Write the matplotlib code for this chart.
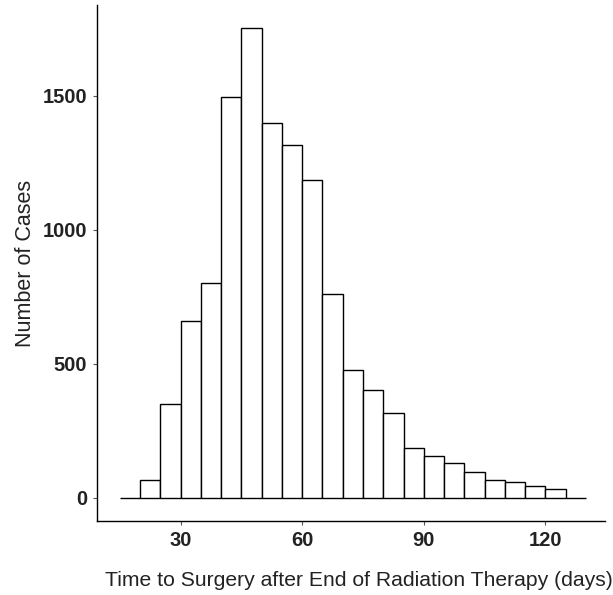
import numpy as np
import matplotlib.pyplot as plt

plt.rcParams['font.family'] = ['Liberation Sans', 'DejaVu Sans']

# histogram bins (days) and counts per 5-day bin
bin_edges = [15, 20, 25, 30, 35, 40, 45, 50, 55, 60, 65, 70, 75,
             80, 85, 90, 95, 100, 105, 110, 115, 120, 125, 130]
counts = [0, 66, 348, 659, 800, 1496, 1752, 1399, 1314, 1184, 759, 475,
          402, 314, 186, 154, 128, 96, 66, 57, 44, 31, 0]
x_ticks = [30, 60, 90, 120]
y_ticks = [0, 500, 1000, 1500]

fig = plt.figure(figsize=(6.13, 5.95), dpi=100)
ax = fig.add_axes([0.158, 0.1244, 0.829, 0.867])

left = np.array(bin_edges[:-1])
widths = np.diff(bin_edges)
ax.bar(left, counts, width=widths, align='edge', facecolor='white',
       edgecolor='black', linewidth=1.0)

ax.set_xlim(9.35, 134.7)
ax.set_ylim(-87.5, 1837.5)
ax.set_xticks(x_ticks)
ax.set_yticks(y_ticks)

ax.spines['top'].set_visible(False)
ax.spines['right'].set_visible(False)
for s in ['left', 'bottom']:
    ax.spines[s].set_linewidth(1.0)
    ax.spines[s].set_color('black')

ax.tick_params(axis='both', length=3, width=0.8, color='#555555',
               labelsize=14.5, labelcolor='#222222', pad=4)
for lab in ax.get_xticklabels() + ax.get_yticklabels():
    lab.set_fontweight('bold')

ax.set_xlabel('Time to Surgery after End of Radiation Therapy (days)',
              fontsize=15.2, color='#222222')
ax.xaxis.set_label_coords(0.516, -0.097)
ax.set_ylabel('Number of Cases', fontsize=15.5, color='#222222', labelpad=5)

fig.savefig('out.png', dpi=100)
